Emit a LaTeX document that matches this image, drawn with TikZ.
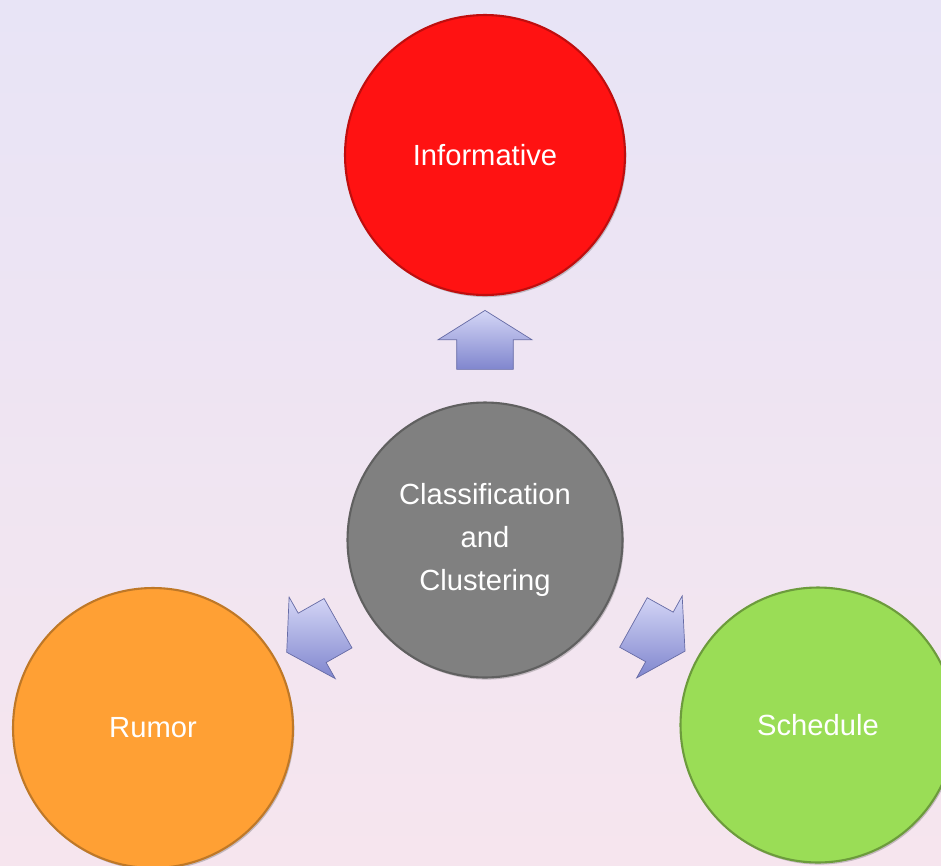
\documentclass[tikz,border=0pt]{standalone}
\usepackage{fontspec}
\setmainfont{Liberation Sans}
\usetikzlibrary{shapes.arrows,shadows,calc}
\definecolor{bgTop}{RGB}{232,228,246}
\definecolor{bgBot}{RGB}{246,229,238}
\definecolor{infRed}{RGB}{255,18,18}
\definecolor{clsGray}{RGB}{128,128,128}
\definecolor{rumOrange}{RGB}{255,160,52}
\definecolor{schGreen}{RGB}{154,221,86}
\definecolor{arrLight}{RGB}{212,214,246}
\definecolor{arrDark}{RGB}{128,134,206}
\tikzset{
	topic/.style={circle, inner sep=0pt, minimum size=5.6cm, line width=1.2pt, text=white,
		font=\fontsize{16.6}{24.5}\selectfont, align=center,
		drop shadow={shadow xshift=0.8pt, shadow yshift=-1.2pt, opacity=0.35, fill=black!60}},
	blockarrow/.style={single arrow, draw=arrDark!80!black, line width=0.4pt,
		inner xsep=0pt, inner ysep=0.56cm, minimum height=1.18cm,
		single arrow head extend=0.37cm, single arrow tip angle=116,
		top color=arrLight, bottom color=arrDark}
}
\begin{document}
\begin{tikzpicture}[x=0.02cm, y=-0.02cm]
		\fill[top color=bgTop, bottom color=bgBot] (0,0) rectangle (941,866);
		\useasboundingbox (0,0) rectangle (941,866);
		\node[topic, fill=infRed, draw=infRed!75!black] (inf) at (485,155) {Informative};
		\node[topic, fill=clsGray, draw=clsGray!75!black, minimum size=5.5cm] (cls) at (485,540) {Classification\\and\\Clustering};
		\node[topic, fill=rumOrange, draw=rumOrange!75!black] (rum) at (153,728) {Rumor};
		\node[topic, fill=schGreen, draw=schGreen!70!black, minimum size=5.5cm] (sch) at (818,725) {Schedule};
		\path (cls) -- (inf) node[midway, sloped, allow upside down, blockarrow] (toInf) {};
		\path (cls) -- (rum) node[midway, sloped, allow upside down, blockarrow] (toRum) {};
		\path (cls) -- (sch) node[midway, sloped, allow upside down, blockarrow] (toSch) {};
	\end{tikzpicture}
\end{document}
